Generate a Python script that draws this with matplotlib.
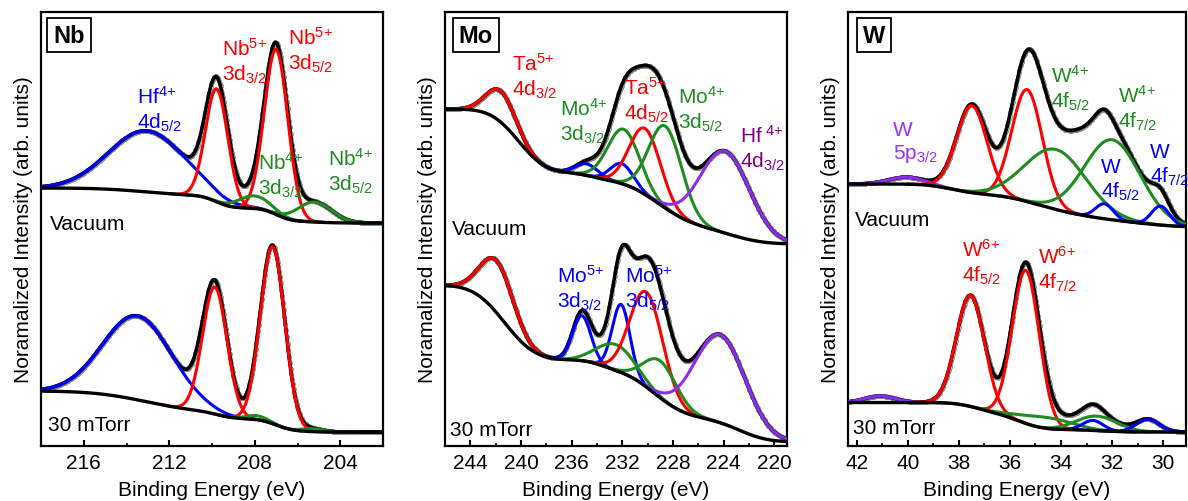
import math
import numpy as np
import matplotlib
matplotlib.use('Agg')
import matplotlib.pyplot as plt
from matplotlib.ticker import MultipleLocator

plt.rcParams['font.family'] = ['Liberation Sans', 'DejaVu Sans']
plt.rcParams['mathtext.fontset'] = 'custom'
plt.rcParams['mathtext.rm'] = 'Liberation Sans'
plt.rcParams['mathtext.it'] = 'Liberation Sans:italic'
plt.rcParams['mathtext.bf'] = 'Liberation Sans:bold'
plt.rcParams['mathtext.default'] = 'regular'

# ---- fitted peaks (centre eV, height, sigma eV) ----
# Nb 3d region
nb_vac_cen = [213.05, 209.78, 207.0, 208.0, 205.2]
nb_vac_hgt = [61, 113, 165, 12.5, 20]
nb_vac_sig = [1.78, 0.52, 0.55, 0.75, 0.8]
nb_vac_bg_base = 223
nb_vac_bg_cen = [213.0, 209.8, 207.0, 205.2]
nb_vac_bg_size = [8, 12, 13, 2]
nb_vac_bg_sig = [1.8, 0.55, 0.55, 0.8]

nb_gas_cen = [213.47, 209.87, 207.16, 207.9, 205.3]
nb_gas_hgt = [84, 127, 177, 4, 3]
nb_gas_sig = [1.62, 0.57, 0.57, 0.5, 0.5]
nb_gas_bg_base = 14
nb_gas_bg_cen = [213.0, 209.7, 207.0, 205.5]
nb_gas_bg_size = [22, 6, 12, 1]
nb_gas_bg_sig = [2.0, 0.6, 0.6, 0.5]

nb_colors = ['blue', 'red', 'red', 'green', 'green']

# Mo 3d region
mo_vac_cen = [241.6, 234.8, 232.05, 231.9, 230.2, 228.6, 223.9]
mo_vac_hgt = [31, 11.5, 20, 55, 66, 82, 82]
mo_vac_sig = [1.15, 0.9, 0.9, 1.25, 1.23, 1.3, 1.95]
mo_vac_bg_base = 202
mo_vac_bg_cen = [240.2, 234.5, 229.2, 223.3]
mo_vac_bg_size = [64, 6, 48, 17]
mo_vac_bg_sig = [1.7, 1.0, 2.2, 2.0]

mo_gas_cen = [241.9, 235.2, 232.1, 232.5, 230.1, 229.0, 224.3]
mo_gas_hgt = [52, 45, 68, 26, 95, 37, 88]
mo_gas_sig = [1.3, 0.72, 0.7, 1.5, 1.3, 1.3, 2.0]
mo_gas_bg_base = 4
mo_gas_bg_cen = [241.3, 233.8, 229.5, 222.8]
mo_gas_bg_size = [75, 8, 50, 24]
mo_gas_bg_sig = [1.9, 1.0, 2.0, 1.8]

mo_colors = ['red', 'blue', 'blue', 'green', 'red', 'green', 'purple']

# W 4f region
w_vac_cen = [40.05, 37.5, 35.33, 34.2, 32.0, 32.3, 30.1]
w_vac_hgt = [7, 87, 112, 60, 80, 15, 19]
w_vac_sig = [0.7, 0.6, 0.6, 1.2, 1.1, 0.35, 0.35]
w_vac_bg_base = 219
w_vac_bg_cen = [38.3, 35.3, 33.5, 30.5]
w_vac_bg_size = [10, 12, 16, 5]
w_vac_bg_sig = [0.8, 1.0, 1.5, 1.0]

w_gas_cen = [41.1, 37.55, 35.38, 34.6, 32.6, 32.75, 30.6]
w_gas_hgt = [6.5, 111, 153, 11, 14.5, 10, 12.5]
w_gas_sig = [0.6, 0.55, 0.53, 1.0, 0.8, 0.4, 0.45]
w_gas_bg_base = 14
w_gas_bg_cen = [37.3, 35.6, 32.5]
w_gas_bg_size = [11, 16, 2.5]
w_gas_bg_sig = [0.7, 0.7, 0.8]

w_colors = ['purple', 'red', 'red', 'green', 'green', 'blue', 'blue']

COL = {'red': '#ff0000', 'blue': '#0000ff', 'green': '#1e8c1e', 'purple': '#8f2bf0'}

erf = np.vectorize(math.erf)


def gauss(x, c, h, s):
    return h * np.exp(-0.5 * ((x - c) / s) ** 2)


def background(x, base, cen, size, sig):
    y = np.full_like(x, float(base))
    for c, a, s in zip(cen, size, sig):
        y += a * 0.5 * (1 + erf((x - c) / (s * np.sqrt(2))))
    return y


def draw(ax, x, cen, hgt, sig, colors, base, bcen, bsize, bsig):
    bg = background(x, base, bcen, bsize, bsig)
    comps = [gauss(x, c, h, s) for c, h, s in zip(cen, hgt, sig)]
    env = bg + np.sum(comps, axis=0)
    ax.plot(x[::2], env[::2], 'o', mfc='none', mec='0.55', ms=3, mew=0.6, zorder=1)
    ax.plot(x, env, color='k', lw=2.6, zorder=2)
    for comp, col, c, s in zip(comps, colors, cen, sig):
        m = np.abs(x - c) < 4.2 * s
        ax.plot(x[m], (bg + comp)[m], color=COL[col], lw=2.2, zorder=3)
    ax.plot(x, bg, color='k', lw=2.4, zorder=4)


def label(ax, x, y, s, color, **kw):
    ax.text(x, y, s, color=color, fontsize=15, ha='left', va='top',
            linespacing=1.2, clip_on=False, **kw)


fig = plt.figure(figsize=(11.88, 5.02), dpi=100)
W, H = 1188, 502
ax1 = fig.add_axes([41 / W, 55 / H, 342 / W, 434 / H])
ax2 = fig.add_axes([445 / W, 55 / H, 342 / W, 434 / H])
ax3 = fig.add_axes([848 / W, 55 / H, 338 / W, 434 / H])

# Nb
x = np.linspace(218, 202, 900)
draw(ax1, x, nb_vac_cen, nb_vac_hgt, nb_vac_sig, nb_colors,
     nb_vac_bg_base, nb_vac_bg_cen, nb_vac_bg_size, nb_vac_bg_sig)
draw(ax1, x, nb_gas_cen, nb_gas_hgt, nb_gas_sig, nb_colors,
     nb_gas_bg_base, nb_gas_bg_cen, nb_gas_bg_size, nb_gas_bg_sig)
ax1.set_xlim(218, 202)
ax1.xaxis.set_major_locator(MultipleLocator(4))
ax1.xaxis.set_minor_locator(MultipleLocator(2))
label(ax1, 213.52, 361, 'Hf$^{4{+}}$\n4d$_{5/2}$', COL['blue'])
label(ax1, 209.55, 409, 'Nb$^{5{+}}$\n3d$_{3/2}$', COL['red'])
label(ax1, 206.43, 420, 'Nb$^{5{+}}$\n3d$_{5/2}$', COL['red'])
label(ax1, 207.83, 295, 'Nb$^{4{+}}$\n3d$_{3/2}$', COL['green'])
label(ax1, 204.56, 299, 'Nb$^{4{+}}$\n3d$_{5/2}$', COL['green'])
label(ax1, 217.58, 232, 'Vacuum', 'k')
label(ax1, 217.66, 31, '30 mTorr', 'k')

# Mo
x = np.linspace(246, 219, 900)
draw(ax2, x, mo_vac_cen, mo_vac_hgt, mo_vac_sig, mo_colors,
     mo_vac_bg_base, mo_vac_bg_cen, mo_vac_bg_size, mo_vac_bg_sig)
draw(ax2, x, mo_gas_cen, mo_gas_hgt, mo_gas_sig, mo_colors,
     mo_gas_bg_base, mo_gas_bg_cen, mo_gas_bg_size, mo_gas_bg_sig)
ax2.set_xlim(246, 219)
ax2.xaxis.set_major_locator(MultipleLocator(4))
ax2.xaxis.set_minor_locator(MultipleLocator(2))
label(ax2, 240.73, 394, 'Ta$^{5{+}}$\n4d$_{3/2}$', COL['red'])
label(ax2, 236.92, 349, 'Mo$^{4{+}}$\n3d$_{3/2}$', COL['green'])
label(ax2, 231.83, 370, 'Ta$^{5{+}}$\n4d$_{5/2}$', COL['red'])
label(ax2, 227.58, 361, 'Mo$^{4{+}}$\n3d$_{5/2}$', COL['green'])
label(ax2, 222.71, 322, 'Hf$^{\\ 4{+}}$\n4d$_{3/2}$', '#800080')
label(ax2, 237.18, 182, 'Mo$^{5{+}}$\n3d$_{3/2}$', COL['blue'])
label(ax2, 231.79, 182, 'Mo$^{5{+}}$\n3d$_{5/2}$', COL['blue'])
label(ax2, 245.47, 227, 'Vacuum', 'k')
label(ax2, 245.6, 26, '30 mTorr', 'k')

# W
x = np.linspace(42.35, 29.1, 900)
draw(ax3, x, w_vac_cen, w_vac_hgt, w_vac_sig, w_colors,
     w_vac_bg_base, w_vac_bg_cen, w_vac_bg_size, w_vac_bg_sig)
draw(ax3, x, w_gas_cen, w_gas_hgt, w_gas_sig, w_colors,
     w_gas_bg_base, w_gas_bg_cen, w_gas_bg_size, w_gas_bg_sig)
ax3.set_xlim(42.35, 29.1)
ax3.xaxis.set_major_locator(MultipleLocator(2))
ax3.xaxis.set_minor_locator(MultipleLocator(1))
label(ax3, 40.60, 326, 'W\n5p$_{3/2}$', '#9b30ff')
label(ax3, 34.39, 382, 'W$^{4{+}}$\n4f$_{5/2}$', COL['green'])
label(ax3, 31.78, 362, 'W$^{4{+}}$\n4f$_{7/2}$', COL['green'])
label(ax3, 32.43, 289, 'W\n4f$_{5/2}$', COL['blue'])
label(ax3, 30.52, 304, 'W\n4f$_{7/2}$', COL['blue'])
label(ax3, 37.9, 208, 'W$^{6{+}}$\n4f$_{5/2}$', COL['red'])
label(ax3, 34.91, 201, 'W$^{6{+}}$\n4f$_{7/2}$', COL['red'])
label(ax3, 42.08, 236, 'Vacuum', 'k')
label(ax3, 42.14, 28, '30 mTorr', 'k')

for ax, name, bx in [(ax1, 'Nb', 0.082), (ax2, 'Mo', 0.09), (ax3, 'W', 0.077)]:
    ax.set_ylim(0, 434)
    ax.set_yticks([])
    ax.set_xlabel('Binding Energy (eV)', fontsize=15, labelpad=6)
    ax.set_ylabel('Noramalized Intensity (arb. units)', fontsize=15, labelpad=6)
    ax.tick_params(axis='x', which='major', direction='in', length=4, width=1.5,
                   labelsize=15, pad=5, top=False)
    ax.tick_params(axis='x', which='minor', direction='in', length=2.5, width=1.2, top=False)
    for sp in ax.spines.values():
        sp.set_linewidth(1.6)
    ax.text(bx, 0.947, name, transform=ax.transAxes, fontsize=17, fontweight='bold',
            ha='center', va='center',
            bbox=dict(boxstyle='square,pad=0.25', fc='white', ec='k', lw=1.3))

fig.savefig('out.png', dpi=100)
